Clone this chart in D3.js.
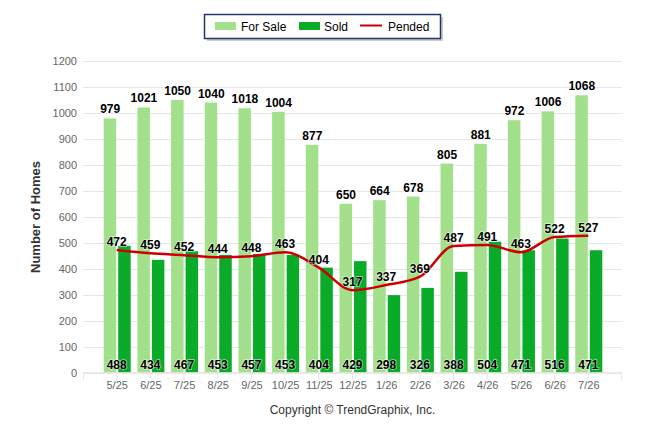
<!DOCTYPE html>
<html><head><meta charset="utf-8">
<script src="https://cdn.jsdelivr.net/npm/d3@7"></script>
<style>body{margin:0;background:#fff;}svg{display:block;font-family:"Liberation Sans",Arial,sans-serif;}</style>
</head><body><svg id="c" width="646" height="434"></svg>
<script>
const categories = ["5/25","6/25","7/25","8/25","9/25","10/25","11/25","12/25","1/26","2/26","3/26","4/26","5/26","6/26","7/26"];
const forSale = [979,1021,1050,1040,1018,1004,877,650,664,678,805,881,972,1006,1068];
const sold = [488,434,467,453,457,453,404,429,298,326,388,504,471,516,471];
const pended = [472,459,452,444,448,463,404,317,337,369,487,491,463,522,527];
const yTicks = [0,100,200,300,400,500,600,700,800,900,1000,1100,1200];

const svg = d3.select("#c");
const x = d3.scalePoint().domain(categories).range([116.7, 588.3]);
const y = d3.scaleLinear().domain([0,1200]).range([372.5, 61]);
const plotL = 83, plotR = 622;
const bw = 12.5;

// gridlines
svg.append("g").selectAll("line").data(yTicks.filter(d=>d>0)).join("line")
  .attr("x1",plotL).attr("x2",plotR).attr("y1",d=>Math.round(y(d))+0.5).attr("y2",d=>Math.round(y(d))+0.5)
  .attr("stroke","#e6e6e6").attr("stroke-width",1);

// y axis labels
const yAxis = d3.axisLeft(y).tickValues(yTicks).tickFormat(d3.format("d")).tickSize(0).tickPadding(0);
const yg = svg.append("g").attr("transform",`translate(77,0)`).call(yAxis);
yg.select(".domain").remove();
yg.selectAll("text").attr("fill","#666").style("font-size","11px").style("font-family","'Liberation Sans',Arial,sans-serif");

// bars
svg.append("g").selectAll("rect").data(forSale).join("rect")
  .attr("x",(d,i)=>x(categories[i])-bw-0.5).attr("width",bw)
  .attr("y",d=>y(d)).attr("height",d=>y(0)-y(d)).attr("fill","#a3e08b");
svg.append("g").selectAll("rect").data(sold).join("rect")
  .attr("x",(d,i)=>x(categories[i])+1.5).attr("width",bw)
  .attr("y",d=>y(d)).attr("height",d=>y(0)-y(d)).attr("fill","#0aab28");

// x axis
const xAxis = d3.axisBottom(x).tickSize(0).tickPadding(9);
const xg = svg.append("g").attr("transform",`translate(0,${y(0)})`).call(xAxis);
xg.select(".domain").remove();
xg.selectAll("text").attr("fill","#666").style("font-size","11px").style("font-family","'Liberation Sans',Arial,sans-serif");
svg.append("line").attr("x1",plotL).attr("x2",plotR).attr("y1",373).attr("y2",373).attr("stroke","#e0e0e0").attr("stroke-width",1.5);
svg.append("g").selectAll("line").data(categories).join("line")
  .attr("x1",d=>x(d)).attr("x2",d=>x(d)).attr("y1",372).attr("y2",380).attr("stroke","#e6e6e6");
svg.append("line").attr("x1",plotL+0.5).attr("x2",plotL+0.5).attr("y1",372).attr("y2",380).attr("stroke","#e6e6e6");
svg.append("line").attr("x1",plotR-0.5).attr("x2",plotR-0.5).attr("y1",372).attr("y2",380).attr("stroke","#e6e6e6");

// pended line
const line = d3.line().x((d,i)=>x(categories[i])).y(d=>y(d)).curve(d3.curveMonotoneX);
svg.append("path").datum(pended).attr("d",line).attr("fill","none").attr("stroke","#cc0000").attr("stroke-width",2.5);

// labels
function lab(g, data, fx, fy){
  g.selectAll("text").data(data).join("text")
   .attr("x",fx).attr("y",fy).attr("text-anchor","middle")
   .style("font-size","12px").style("font-weight","bold").attr("fill","#000")
   .attr("stroke","#fff").attr("stroke-width",1.5).attr("stroke-opacity",0.6).style("paint-order","stroke")
   .text(d=>d);
}
lab(svg.append("g"), forSale, (d,i)=>x(categories[i])-6.5, d=>y(d)-5);
lab(svg.append("g"), sold, (d,i)=>x(categories[i]), 369);
lab(svg.append("g"), pended, (d,i)=>x(categories[i]), d=>y(d)-4);

// y title
svg.append("text").attr("transform","translate(40,217) rotate(-90)").attr("text-anchor","middle")
  .style("font-size","13px").style("font-weight","bold").attr("fill","#333").text("Number of Homes");

// legend
const lg = svg.append("g");
lg.append("rect").attr("x",207).attr("y",17).attr("width",236).attr("height",24).attr("fill","#999").attr("opacity",0.5);
lg.append("rect").attr("x",204.5).attr("y",14.5).attr("width",236).attr("height",24).attr("fill","#fff").attr("stroke","#1f3864").attr("stroke-width",1.5);
const items = [
  {name:"For Sale", type:"rect", color:"#a3e08b", sx:215, tx:241},
  {name:"Sold", type:"rect", color:"#0aab28", sx:299, tx:324},
  {name:"Pended", type:"line", color:"#cc0000", sx:360, tx:388}
];
items.forEach(it=>{
  if(it.type==="rect") lg.append("rect").attr("x",it.sx).attr("y",22).attr("width",21).attr("height",8).attr("fill",it.color);
  else lg.append("line").attr("x1",it.sx).attr("x2",it.sx+22).attr("y1",25.5).attr("y2",25.5).attr("stroke",it.color).attr("stroke-width",2);
  lg.append("text").attr("x",it.tx).attr("y",30.5).style("font-size","12px").attr("fill","#000").text(it.name);
});

// copyright
svg.append("text").attr("x",352.5).attr("y",414).attr("text-anchor","middle").style("font-size","12px").attr("fill","#333").text("Copyright © TrendGraphix, Inc.");
</script></body></html>
